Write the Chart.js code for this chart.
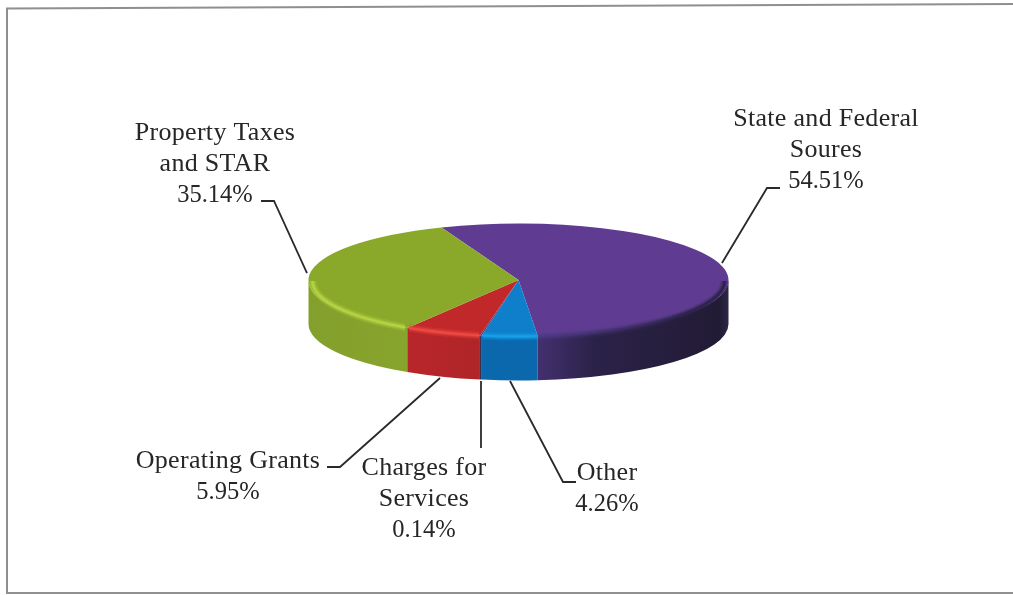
<!DOCTYPE html>
<html>
<head>
<meta charset="utf-8">
<title>Revenue sources</title>
<script src="https://cdn.jsdelivr.net/npm/chart.js@4/dist/chart.umd.min.js"></script>
<style>
    html, body { margin: 0; padding: 0; background: #fff; }
    canvas { display: block; }
</style>
</head>
<body>
<canvas id="pieChart" width="1013" height="595"></canvas>
<script>
const categories = ['State and Federal Soures', 'Other', 'Charges for Services', 'Operating Grants', 'Property Taxes and STAR'];
const shares = [54.51, 4.26, 0.14, 5.95, 35.14];
const labelLines = [
    ['State and Federal', 'Soures'],
    ['Other'],
    ['Charges for', 'Services'],
    ['Operating Grants'],
    ['Property Taxes', 'and STAR']
];

const topColors = ['#5f3c92', '#0f7ecb', '#5a3a70', '#c1282a', '#8aa82a'];
const wallColors = [
    [[0, '#43306f'], [0.3, '#2b2248'], [0.95, '#221b35'], [1, '#2e2745']],
    [[0, '#0b68ad'], [1, '#0b68ad']],
    [[0, '#3a3050'], [1, '#3a3050']],
    [[0, '#b8262b'], [1, '#b02528']],
    [[0, '#84a02c'], [1, '#87a42c']]
];
const rimColors = [null, '#15a0ea', '#6a4a90', '#ee4a42', '#b7d444'];

// where each label sits: centre x, first baseline, and the leader line points
const labelSpots = [
    { x: 826, y: 126, leader: [[780, 188], [767, 188], [722, 263]] },
    { x: 607, y: 480, leader: [[576, 482], [563, 482], [510, 381]] },
    { x: 424, y: 475, leader: [[481, 448], [481, 381]] },
    { x: 228, y: 468, leader: [[327, 467], [340, 467], [440, 378]] },
    { x: 215, y: 140, leader: [[261, 201], [274, 201], [307, 273]] }
];

const squash = 0.269;
const pieTop = 280;
const depth = 44;
const lineGap = 31;

function sweep(arc, fn) {
    // calls fn with the part of the slice on the front half of the ellipse
    for (let k = -1; k <= 1; k++) {
        const a = Math.max(arc.startAngle + k * 2 * Math.PI, 0);
        const b = Math.min(arc.endAngle + k * 2 * Math.PI, Math.PI);
        if (a < b) fn(a, b);
    }
}

const pie3d = {
    id: 'pie3d',
    beforeDraw(chart) {
        const ctx = chart.ctx;
        ctx.save();
        ctx.strokeStyle = '#8f8f8f';
        ctx.lineWidth = 2;
        ctx.beginPath();
        ctx.moveTo(1013, 4);
        ctx.lineTo(7, 8.5);
        ctx.lineTo(7, 593);
        ctx.lineTo(1013, 593);
        ctx.stroke();
        ctx.restore();
    },
    beforeDatasetsDraw(chart) {
        const ctx = chart.ctx;
        const arcs = chart.getDatasetMeta(0).data;
        const cx = arcs[0].x;
        const rx = arcs[0].outerRadius;
        const ry = rx * squash;

        arcs.forEach((arc, i) => {
            sweep(arc, (a, b) => {
                const x0 = cx + rx * Math.cos(b);
                const x1 = cx + rx * Math.cos(a);
                const grad = ctx.createLinearGradient(x0, 0, x1, 0);
                wallColors[i].forEach(stop => grad.addColorStop(stop[0], stop[1]));
                ctx.fillStyle = grad;
                ctx.beginPath();
                ctx.ellipse(cx, pieTop, rx, ry, 0, a, b);
                ctx.ellipse(cx, pieTop + depth, rx, ry, 0, b, a, true);
                ctx.closePath();
                ctx.fill();
            });
        });

        // flatten the disc, the library draws the slices through this transform
        ctx.save();
        ctx.translate(0, pieTop);
        ctx.scale(1, squash);
        ctx.translate(0, -arcs[0].y);
    },
    afterDatasetsDraw(chart) {
        const ctx = chart.ctx;
        ctx.restore();

        const arcs = chart.getDatasetMeta(0).data;
        const cx = arcs[0].x;
        const rx = arcs[0].outerRadius;
        const ry = rx * squash;

        // soft bevel along the front edge of the disc
        const purpleRim = ctx.createLinearGradient(cx + 20, 0, cx + rx - 40, 0);
        purpleRim.addColorStop(0, '#4d3a86');
        purpleRim.addColorStop(1, '#2a2146');

        const bands = [[8, 0.22], [5, 0.4], [2.5, 0.85]];
        arcs.forEach((arc, i) => {
            sweep(arc, (a, b) => {
                ctx.save();
                // keep the stroke inside the slice's own sector of the ellipse
                ctx.beginPath();
                ctx.rect(cx + (rx + 4) * Math.cos(b), 200, (rx + 4) * (Math.cos(a) - Math.cos(b)), 200);
                ctx.clip();
                ctx.strokeStyle = rimColors[i] || purpleRim;
                bands.forEach(band => {
                    ctx.globalAlpha = band[1];
                    ctx.lineWidth = band[0];
                    ctx.beginPath();
                    ctx.ellipse(cx, pieTop + 1, rx - 4, ry - 1, 0, a, b);
                    ctx.stroke();
                });
                ctx.restore();
            });
        });

        ctx.strokeStyle = '#2a2a2a';
        ctx.lineWidth = 1.8;
        labelSpots.forEach(spot => {
            ctx.beginPath();
            spot.leader.forEach((p, n) => n ? ctx.lineTo(p[0], p[1]) : ctx.moveTo(p[0], p[1]));
            ctx.stroke();
        });

        ctx.fillStyle = '#262626';
        ctx.textAlign = 'center';
        ctx.textBaseline = 'alphabetic';
        labelSpots.forEach((spot, i) => {
            ctx.font = '26px "Liberation Serif"';
            ctx.letterSpacing = '0.3px';
            labelLines[i].forEach((text, n) => ctx.fillText(text, spot.x, spot.y + n * lineGap));
            ctx.font = '24.5px "Liberation Serif"';
            ctx.letterSpacing = '0px';
            ctx.fillText(shares[i].toFixed(2) + '%', spot.x, spot.y + labelLines[i].length * lineGap);
        });
    }
};

new Chart(document.getElementById('pieChart'), {
    type: 'pie',
    data: {
        labels: categories,
        datasets: [{
            data: shares,
            backgroundColor: topColors,
            borderWidth: 0,
            clip: false
        }]
    },
    options: {
        responsive: false,
        animation: false,
        events: [],
        rotation: -21.5,
        radius: 210,
        layout: { padding: { left: 309, right: 285, top: 88, bottom: 87 } },
        plugins: { legend: { display: false }, tooltip: { enabled: false } }
    },
    plugins: [pie3d]
});
</script>
</body>
</html>
